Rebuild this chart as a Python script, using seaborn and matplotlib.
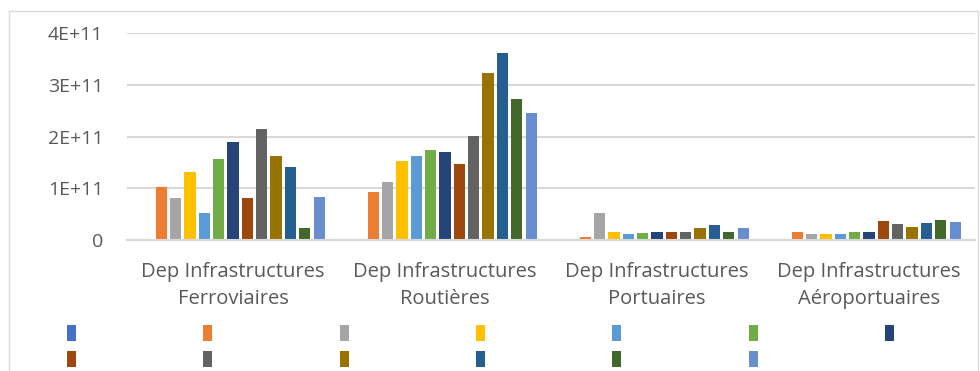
import pandas as pd
import numpy as np
import matplotlib.pyplot as plt
import seaborn as sb
from matplotlib.patches import Rectangle

categories = ['Dep Infrastructures\nFerroviaires', 'Dep Infrastructures\nRoutières',
              'Dep Infrastructures\nPortuaires', 'Dep Infrastructures\nAéroportuaires']

series_names = ['S%d' % i for i in range(1, 14)]

# values in units of 1E+11, one list per category, one entry per series
ferroviaires = [0, 1.02, 0.81, 1.31, 0.52, 1.56, 1.90, 0.81, 2.15, 1.62, 1.42, 0.23, 0.83]
routieres = [0, 0.93, 1.13, 1.53, 1.62, 1.73, 1.71, 1.47, 2.01, 3.22, 3.61, 2.72, 2.45]
portuaires = [0, 0.06, 0.52, 0.15, 0.12, 0.14, 0.15, 0.16, 0.16, 0.24, 0.29, 0.16, 0.24]
aeroportuaires = [0, 0.16, 0.12, 0.12, 0.12, 0.16, 0.16, 0.36, 0.30, 0.26, 0.33, 0.39, 0.35]

colors = ['#4472C4', '#ED7D31', '#A5A5A5', '#FFC000', '#5B9BD5', '#70AD47', '#264478',
          '#9E480E', '#636363', '#997300', '#255E91', '#43682B', '#698ED0']

rows = []
for cat, vals in zip(categories, [ferroviaires, routieres, portuaires, aeroportuaires]):
    for s, v in zip(series_names, vals):
        rows.append({'cat': cat, 'series': s, 'value': v * 1e11})
df = pd.DataFrame(rows)

sb.set_style('white')
plt.rcParams['font.family'] = ['Open Sans', 'DejaVu Sans']

fig = plt.figure(figsize=(9.8, 3.71), dpi=100)
ax = fig.add_axes([127 / 980, 1 - 240 / 371, 848 / 980, (240 - 33) / 371])

sb.barplot(data=df, x='cat', y='value', hue='series', order=categories,
           hue_order=series_names, palette=colors, saturation=1, width=0.88, gap=0.22,
           linewidth=0, ax=ax, legend=True)

ax.set_ylim(0, 4e11)
ax.set_xlim(-0.5, 3.5)
ax.set_yticks([0, 1e11, 2e11, 3e11, 4e11])
ax.set_yticklabels(['0', '1E+11', '2E+11', '3E+11', '4E+11'])
ax.yaxis.grid(True, color='#D9D9D9', linewidth=1.5)
ax.set_axisbelow(True)
for sp in ['top', 'right', 'left']:
    ax.spines[sp].set_visible(False)
ax.spines['bottom'].set_color('#D9D9D9')
ax.spines['bottom'].set_linewidth(1.5)
ax.tick_params(axis='x', length=0, pad=16, labelsize=14.5, labelcolor='#595959')
ax.tick_params(axis='y', length=0, pad=17, labelsize=14, labelcolor='#595959')
for t in ax.get_xticklabels():
    t.set_linespacing(1.45)
ax.set_xlabel('')
ax.set_ylabel('')

# legend filled row by row like the original (matplotlib fills columns first)
handles, _ = ax.get_legend_handles_labels()
order = [0, 7, 1, 8, 2, 9, 3, 10, 4, 11, 5, 12, 6]
ax.legend([handles[i] for i in order], [''] * 13, ncol=7, loc='upper left',
          bbox_to_anchor=(58 / 980, 1 - 316 / 371), bbox_transform=fig.transFigure,
          frameon=False, fontsize=13, handlelength=0.5, handleheight=1.0,
          handletextpad=0, columnspacing=7.05, labelspacing=0.4, borderpad=0)

fig.add_artist(Rectangle((9 / 980, -0.05), (978 - 9) / 980, (371 - 11) / 371 + 0.05,
                         transform=fig.transFigure, fill=False, edgecolor='#D9D9D9',
                         linewidth=1))

plt.savefig('out.png', dpi=100)
